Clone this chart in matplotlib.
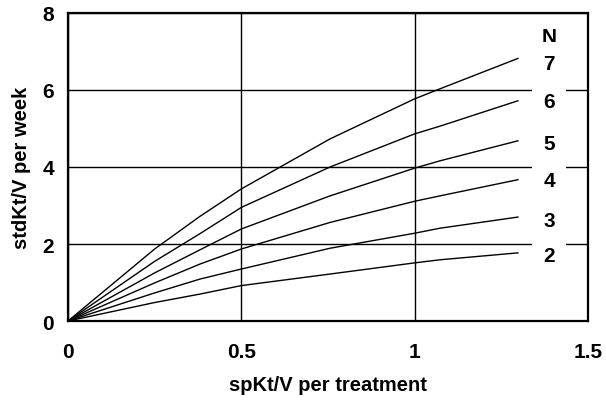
import matplotlib
matplotlib.use("Agg")
import matplotlib.pyplot as plt
import numpy as np

# spKt/V per treatment (x) and stdKt/V per week for N = 2..7 sessions
sp_ktv = [0.0, 0.25, 0.381, 0.5, 0.756, 1.0, 1.073, 1.298]
std_n7 = [0.0, 1.87, 2.72, 3.43, 4.73, 5.77, 6.03, 6.82]
std_n6 = [0.0, 1.55, 2.27, 2.95, 4.00, 4.86, 5.06, 5.72]
std_n5 = [0.0, 1.25, 1.85, 2.39, 3.25, 3.97, 4.16, 4.68]
std_n4 = [0.0, 0.99, 1.48, 1.87, 2.56, 3.11, 3.25, 3.67]
std_n3 = [0.0, 0.73, 1.09, 1.35, 1.89, 2.28, 2.41, 2.70]
std_n2 = [0.0, 0.48, 0.70, 0.92, 1.22, 1.51, 1.59, 1.77]
n_labels = ["7", "6", "5", "4", "3", "2"]
n_label_y = [6.70, 5.71, 4.60, 3.64, 2.62, 1.71]

plt.rcParams['font.family'] = ['Liberation Sans', 'DejaVu Sans']
plt.rcParams['font.weight'] = 'bold'

fig = plt.figure(figsize=(6.06, 4.10), dpi=100)
ax = fig.add_axes([0.1122, 0.2146, 0.858, 0.7513])

series = [std_n7, std_n6, std_n5, std_n4, std_n3, std_n2]
for vals in series:
    ax.plot(sp_ktv, vals, color='black', linewidth=1.0, zorder=3)

ax.set_xlim(0, 1.5)
ax.set_ylim(0, 8)
ax.set_xticks([0, 0.5, 1, 1.5])
ax.set_xticklabels(['0', '0.5', '1', '1.5'])
ax.set_yticks([0, 2, 4, 6, 8])
ax.grid(True, color='black', linewidth=1.0)
ax.tick_params(length=0, labelsize=15, pad=10)
ax.tick_params(axis='x', pad=15)
for s in ax.spines.values():
    s.set_linewidth(1.6)

ax.set_xlabel('spKt/V per treatment', fontsize=14.5, fontweight='bold', labelpad=10)
ax.set_ylabel('stdKt/V per week', fontsize=14.5, fontweight='bold', labelpad=8)

# curve labels on the right, masking the grid behind them
label_x = 1.388
ax.text(label_x, 7.38, 'N', fontsize=15, fontweight='bold', ha='center', va='center')
for lab, ly in zip(n_labels, n_label_y):
    ax.text(label_x, ly, lab, fontsize=15, fontweight='bold', ha='center', va='center',
            zorder=4, bbox=dict(facecolor='white', edgecolor='none', pad=8))

fig.savefig('out.png', dpi=100)
